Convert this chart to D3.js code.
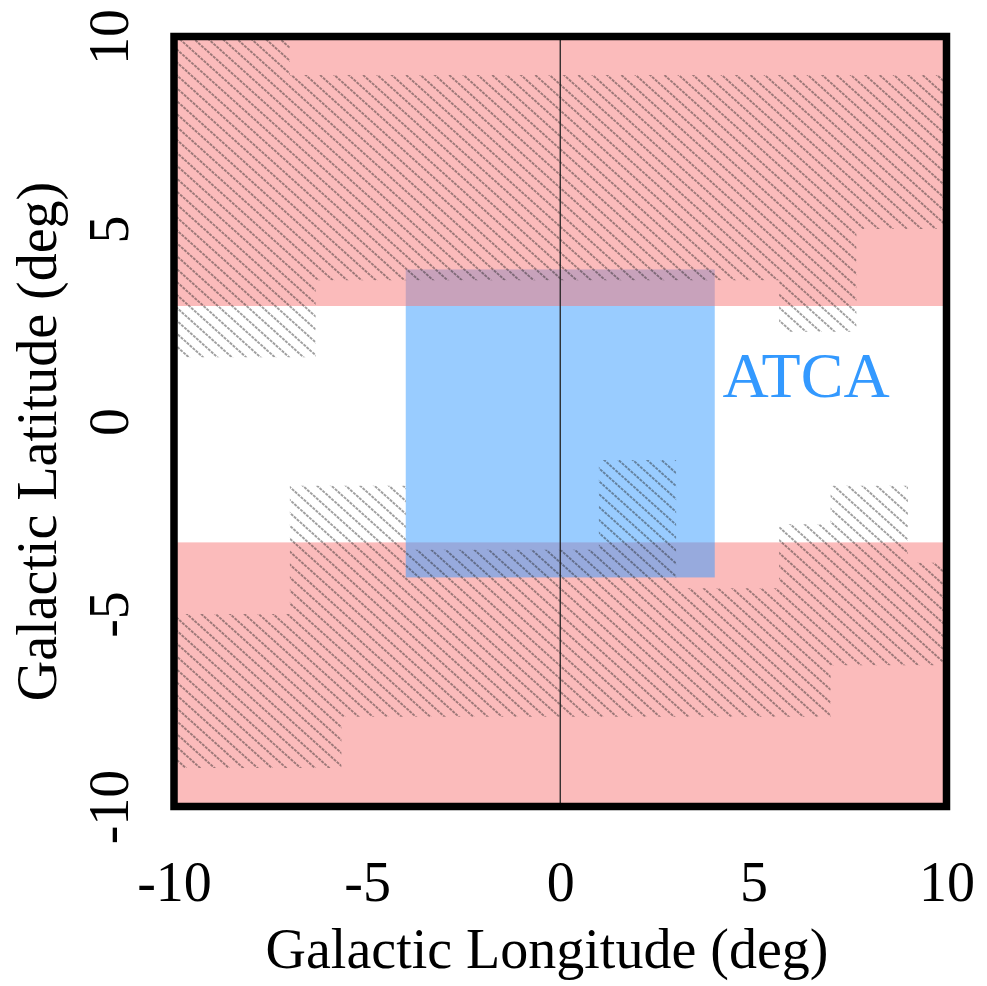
<!DOCTYPE html>
<html>
<head>
<meta charset="utf-8">
<script src="https://cdn.jsdelivr.net/npm/d3@7"></script>
<style>
  html, body { margin: 0; padding: 0; background: #fff; }
  svg { display: block; }
  text { font-family: "Liberation Serif", "Times New Roman", serif; }
</style>
</head>
<body>
<svg id="chart" width="987" height="986"></svg>
<script>
// Axis ticks (degrees) and their printed labels
const xTicks = [-10, -5, 0, 5, 10];
const xTickLabels = ["-10", "-5", "0", "5", "10"];
const yTicks = [-10, -5, 0, 5, 10];
const yTickLabels = ["-10", "-5", "0", "5", "10"];

// Survey footprint bands in latitude (deg): [bMin, bMax]
const northBand = [3.0, 10];
const southBand = [-10, -3.14];

// ATCA field: [lMin, lMax, bMin, bMax] (deg)
const atcaBox = [-4, 4, -4.05, 3.95];
const atcaLabel = "ATCA";

// Hatched coverage, in grid units of 1/3 degree: [l0, l1, b0, b1]
const hatchNorth = [
  [-30, -21, 5, 30],
  [-21, -19, 5, 27],
  [-19, 17, 11, 27],
  [17, 23, 7, 27],
  [23, 30, 15, 27]
];
const hatchSouth = [
  [-30, -21, -27, -15],
  [-21, -17, -27, -5],
  [-17, -12, -23, -5],
  [-12, 3, -23, -10],
  [3, 9, -23, -3],
  [9, 17, -23, -13],
  [17, 21, -23, -8],
  [21, 27, -19, -5],
  [27, 30, -19, -11]
];
const gridStep = 1 / 3;

const svg = d3.select("#chart");
const x = d3.scaleLinear().domain([-10, 10]).range([174, 946.5]);
const y = d3.scaleLinear().domain([-10, 10]).range([806.5, 36.5]);

const pinkFill = "rgba(247,119,119,0.5)";
const blueFill = "rgba(51,153,255,0.5)";

// Diagonal hatch pattern
const defs = svg.append("defs");
const spacing = 9.6;
const pat = defs.append("pattern")
  .attr("id", "hatch")
  .attr("patternUnits", "userSpaceOnUse")
  .attr("width", 20)
  .attr("height", spacing)
  .attr("patternTransform", "rotate(42)");
pat.append("line")
  .attr("x1", 0).attr("x2", 20)
  .attr("y1", spacing / 2).attr("y2", spacing / 2)
  .attr("stroke", "#1e1e1e")
  .attr("stroke-width", 1.05)
  .attr("stroke-dasharray", "3 1");

const clip = defs.append("clipPath").attr("id", "hatchClip");
clip.selectAll("rect")
  .data(hatchNorth.concat(hatchSouth))
  .join("rect")
  .attr("x", d => x(d[0] * gridStep))
  .attr("width", d => x(d[1] * gridStep) - x(d[0] * gridStep))
  .attr("y", d => y(d[3] * gridStep))
  .attr("height", d => y(d[2] * gridStep) - y(d[3] * gridStep));

const plot = svg.append("g");

// Southern band, then ATCA field, then northern band
plot.append("rect")
  .attr("x", x(-10)).attr("width", x(10) - x(-10))
  .attr("y", y(southBand[1])).attr("height", y(southBand[0]) - y(southBand[1]))
  .attr("fill", pinkFill);

plot.append("rect")
  .attr("x", x(atcaBox[0])).attr("width", x(atcaBox[1]) - x(atcaBox[0]))
  .attr("y", y(atcaBox[3])).attr("height", y(atcaBox[2]) - y(atcaBox[3]))
  .attr("fill", blueFill);

plot.append("rect")
  .attr("x", x(-10)).attr("width", x(10) - x(-10))
  .attr("y", y(northBand[1])).attr("height", y(northBand[0]) - y(northBand[1]))
  .attr("fill", pinkFill);

// Hatched coverage
plot.append("rect")
  .attr("x", x(-10)).attr("width", x(10) - x(-10))
  .attr("y", y(10)).attr("height", y(-10) - y(10))
  .attr("fill", "url(#hatch)")
  .attr("opacity", 0.85)
  .attr("clip-path", "url(#hatchClip)");

// l = 0 meridian
plot.append("line")
  .attr("x1", x(0)).attr("x2", x(0))
  .attr("y1", y(10)).attr("y2", y(-10))
  .attr("stroke", "#222")
  .attr("stroke-width", 1.3);

// ATCA label
plot.append("text")
  .attr("x", x(4.2)).attr("y", 397)
  .attr("font-size", 64)
  .attr("fill", "#3399ff")
  .text(atcaLabel);

// Frame
svg.append("rect")
  .attr("x", x(-10)).attr("y", y(10))
  .attr("width", x(10) - x(-10)).attr("height", y(-10) - y(10))
  .attr("fill", "none")
  .attr("stroke", "#000")
  .attr("stroke-width", 7.5);

// Axes
const xAxis = svg.append("g")
  .attr("transform", "translate(0,901)")
  .call(d3.axisBottom(x).tickValues(xTicks).tickSize(0)
    .tickFormat((d, i) => xTickLabels[i]));
xAxis.select(".domain").remove();
xAxis.selectAll("text")
  .attr("y", 0).attr("dy", null)
  .attr("font-size", 56)
  .attr("font-family", "Liberation Serif, Times New Roman, serif")
  .attr("fill", "#000");

const yAxis = svg.append("g")
  .attr("transform", "translate(128,0)")
  .call(d3.axisLeft(y).tickValues(yTicks).tickSize(0)
    .tickFormat((d, i) => yTickLabels[i]));
yAxis.select(".domain").remove();
yAxis.selectAll("text")
  .attr("x", null).attr("dy", null)
  .attr("text-anchor", "middle")
  .attr("transform", "rotate(-90)")
  .attr("font-size", 56)
  .attr("font-family", "Liberation Serif, Times New Roman, serif")
  .attr("fill", "#000");

// Axis titles
svg.append("text")
  .attr("x", 547).attr("y", 968)
  .attr("text-anchor", "middle")
  .attr("font-size", 56)
  .text("Galactic Longitude (deg)");

svg.append("text")
  .attr("transform", "translate(56,441.5) rotate(-90)")
  .attr("text-anchor", "middle")
  .attr("font-size", 56)
  .text("Galactic Latitude (deg)");
</script>
</body>
</html>
